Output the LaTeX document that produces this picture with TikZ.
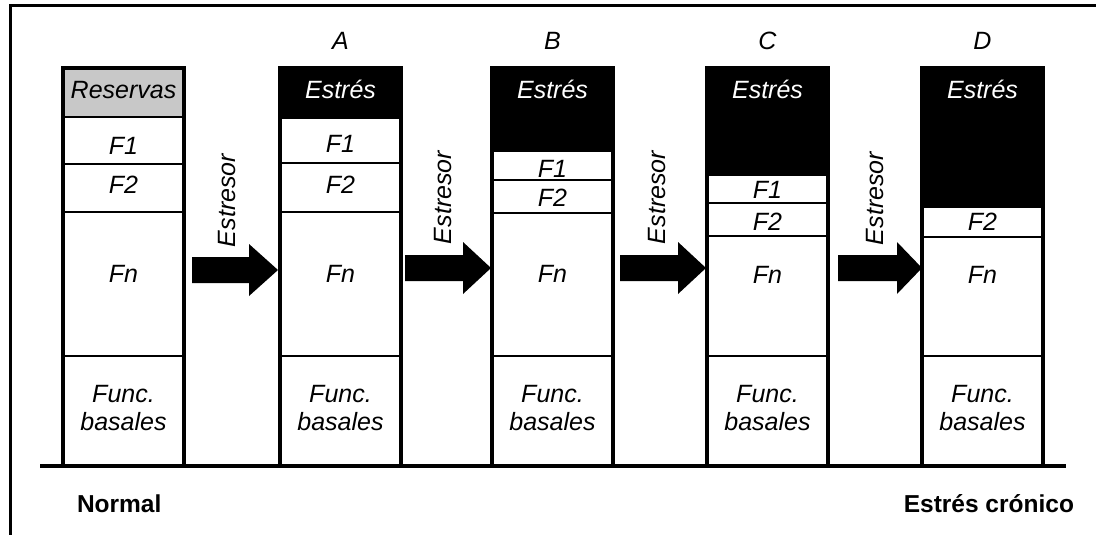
\documentclass[tikz,border=0pt]{standalone}
\usepackage{fontspec}
\setmainfont{Liberation Sans}
\definecolor{resgray}{RGB}{200,200,200}
% one cell of a column: name, style, left x, top y, bottom y
\newcommand\cellat[5]{\node[#2, anchor=north west, minimum height=#5-#4] (#1) at (#3,#4) {};}
% block arrow: tail x, head start x, tip x, axis y
\newcommand\pusharrow[4]{\fill[black] (#1,#4-13) -- (#2,#4-13) -- (#2,#4-26) -- (#3,#4) -- (#2,#4+26) -- (#2,#4+13) -- (#1,#4+13) -- cycle;}
\tikzset{
  every node/.style={inner sep=0pt, outer sep=0pt},
  cellbox/.style={rectangle, draw=black, line width=2.5pt, fill=white, minimum width=121pt},
  stressbox/.style={cellbox, fill=black},
  reservebox/.style={cellbox, fill=resgray},
  colframe/.style={draw=black, line width=3.5pt},
  lbl/.style={font=\fontsize{25}{29}\selectfont\itshape, anchor=base},
  lblw/.style={lbl, text=white},
  vlbl/.style={font=\fontsize{25}{29}\selectfont\itshape, anchor=base west, rotate=90},
  boldlbl/.style={font=\fontsize{24.5}{28}\selectfont\bfseries},
}
\begin{document}
\begin{tikzpicture}[x=1pt, y=-1pt]
\useasboundingbox (0,0) rectangle (1096,535);

% outer frame (top and left edges)
\draw[line width=3pt] (10,535) -- (10,6) -- (1096,6);

% ---- Normal ----
\cellat{n0}{reservebox}{63}{68}{117}
\cellat{n1}{cellbox}{63}{117}{164}
\cellat{n2}{cellbox}{63}{164}{212}
\cellat{n3}{cellbox}{63}{212}{356}
\cellat{n4}{cellbox}{63}{356}{466}
\draw[colframe] (n0.north west) rectangle (n4.south east);
\node[lbl] (tn0) at (123.5,99) {Reservas};
\node[lbl] (tn1) at (123.5,154) {F1};
\node[lbl] (tn2) at (123.5,193) {F2};
\node[lbl] (tn3) at (123.5,282) {Fn};
\node[lbl] (tn4) at (123.5,402) {Func.};
\node[lbl] (tn5) at (123.5,430) {basales};

% ---- A ----
\cellat{a0}{stressbox}{280}{68}{118}
\cellat{a1}{cellbox}{280}{118}{163}
\cellat{a2}{cellbox}{280}{163}{212}
\cellat{a3}{cellbox}{280}{212}{356}
\cellat{a4}{cellbox}{280}{356}{466}
\draw[colframe] (a0.north west) rectangle (a4.south east);
\node[lbl] (la) at (340.5,50) {A};
\node[lblw] (ta0) at (340.5,99) {Estrés};
\node[lbl] (ta1) at (340.5,153) {F1};
\node[lbl] (ta2) at (340.5,193) {F2};
\node[lbl] (ta3) at (340.5,282) {Fn};
\node[lbl] (ta4) at (340.5,402) {Func.};
\node[lbl] (ta5) at (340.5,430) {basales};

% ---- B ----
\cellat{b0}{stressbox}{492}{68}{151}
\cellat{b1}{cellbox}{492}{151}{180}
\cellat{b2}{cellbox}{492}{180}{213}
\cellat{b3}{cellbox}{492}{213}{356}
\cellat{b4}{cellbox}{492}{356}{466}
\draw[colframe] (b0.north west) rectangle (b4.south east);
\node[lbl] (lb) at (552.5,50) {B};
\node[lblw] (tb0) at (552.5,99) {Estrés};
\node[lbl] (tb1) at (552.5,177) {F1};
\node[lbl] (tb2) at (552.5,206) {F2};
\node[lbl] (tb3) at (552.5,282) {Fn};
\node[lbl] (tb4) at (552.5,402) {Func.};
\node[lbl] (tb5) at (552.5,430) {basales};

% ---- C ----
\cellat{c0}{stressbox}{707}{68}{175}
\cellat{c1}{cellbox}{707}{175}{203}
\cellat{c2}{cellbox}{707}{203}{236}
\cellat{c3}{cellbox}{707}{236}{356}
\cellat{c4}{cellbox}{707}{356}{466}
\draw[colframe] (c0.north west) rectangle (c4.south east);
\node[lbl] (lc) at (767.5,50) {C};
\node[lblw] (tc0) at (767.5,99) {Estrés};
\node[lbl] (tc1) at (767.5,198) {F1};
\node[lbl] (tc2) at (767.5,230) {F2};
\node[lbl] (tc3) at (767.5,283) {Fn};
\node[lbl] (tc4) at (767.5,402) {Func.};
\node[lbl] (tc5) at (767.5,430) {basales};

% ---- D ----
\cellat{d0}{stressbox}{922}{68}{207}
\cellat{d2}{cellbox}{922}{207}{237}
\cellat{d3}{cellbox}{922}{237}{356}
\cellat{d4}{cellbox}{922}{356}{466}
\draw[colframe] (d0.north west) rectangle (d4.south east);
\node[lbl] (ld) at (982.5,50) {D};
\node[lblw] (td0) at (982.5,99) {Estrés};
\node[lbl] (td2) at (982.5,230) {F2};
\node[lbl] (td3) at (982.5,283) {Fn};
\node[lbl] (td4) at (982.5,402) {Func.};
\node[lbl] (td5) at (982.5,430) {basales};

% ground line
\draw[line width=4.5pt] (40,466) -- (1066,466);

% stressor arrows between the columns
\pusharrow{192}{249}{278}{270}
\pusharrow{405}{463}{491}{268}
\pusharrow{620}{678}{706}{268}
\pusharrow{838}{897}{922}{268}
\node[vlbl] (s1) at (235,247) {Estresor};
\node[vlbl] (s2) at (451,244) {Estresor};
\node[vlbl] (s3) at (665,244) {Estresor};
\node[vlbl] (s4) at (883,245) {Estresor};

% end labels
\node[boldlbl, anchor=base west] (lnormal) at (77,512) {Normal};
\node[boldlbl, anchor=base east] (lchronic) at (1074,512) {Estrés crónico};
\end{tikzpicture}
\end{document}
